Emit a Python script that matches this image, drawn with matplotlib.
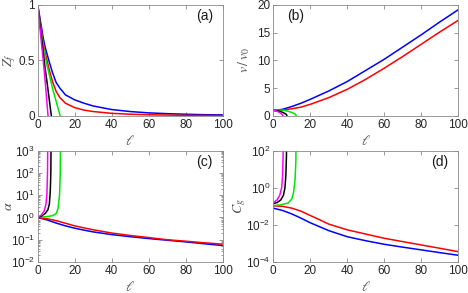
import matplotlib
matplotlib.use('Agg')
import matplotlib.pyplot as plt
import numpy as np

plt.rcParams['font.family'] = ['Liberation Sans', 'DejaVu Sans']
plt.rcParams['mathtext.fontset'] = 'stix'

# ---- panel (a): Z_f vs l ----
a_blue_l = [0, 1, 2, 3, 4, 6, 8, 10, 12, 15, 20, 25, 30, 40, 50, 60, 70, 80, 90, 100]
a_blue = [1, 0.9, 0.8, 0.7, 0.62, 0.5, 0.39, 0.3, 0.25, 0.19, 0.145, 0.115, 0.09, 0.058, 0.04, 0.028, 0.021, 0.016, 0.012, 0.01]
a_red_l = [0, 1, 2, 3, 4, 5, 6, 8, 10, 12, 15, 20, 25, 30, 40, 50, 60, 80, 100]
a_red = [1, 0.88, 0.76, 0.66, 0.57, 0.5, 0.43, 0.31, 0.22, 0.165, 0.115, 0.075, 0.053, 0.04, 0.024, 0.016, 0.011, 0.006, 0.004]
a_green_l = [0, 1, 2, 3, 4, 5, 6, 7, 8, 9, 10, 11, 12.2]
a_green = [1, 0.86, 0.74, 0.63, 0.54, 0.46, 0.39, 0.32, 0.25, 0.19, 0.13, 0.07, 0]
a_black_l = [0, 1, 2, 3, 4, 5, 6, 7, 7.4]
a_black = [1, 0.86, 0.72, 0.57, 0.43, 0.31, 0.18, 0.05, 0]
a_mag_l = [0, 1, 2, 3, 4, 5, 5.6]
a_mag = [1, 0.83, 0.66, 0.5, 0.32, 0.12, 0]

# ---- panel (b): v/v0 vs l ----
b_blue_l = [0, 5, 10, 15, 20, 30, 40, 50, 60, 70, 80, 90, 100]
b_blue = [1, 1.2, 1.7, 2.3, 3.0, 4.5, 6.2, 8.2, 10.2, 12.4, 14.6, 16.9, 19.1]
b_red_l = [0, 5, 10, 15, 20, 30, 40, 50, 60, 70, 80, 90, 100]
b_red = [1, 1.05, 1.3, 1.6, 2.1, 3.3, 4.8, 6.6, 8.6, 10.7, 12.9, 15.1, 17.2]
b_green_l = [0, 2, 4, 6, 8, 10, 11, 12, 12.5]
b_green = [1, 1.05, 1.05, 1.0, 0.85, 0.65, 0.5, 0.3, 0]
b_black_l = [0, 2, 3, 4, 5, 6, 7, 7.5]
b_black = [1, 0.95, 0.9, 0.8, 0.65, 0.5, 0.3, 0]
b_mag_l = [0, 1, 2, 3, 4, 5, 5.4]
b_mag = [1, 0.95, 0.85, 0.7, 0.5, 0.2, 0]

# ---- panel (c): alpha vs l ----
c_blue_l = [0, 5, 10, 15, 20, 25, 30, 40, 50, 60, 70, 80, 90, 100]
c_blue = [1, 0.78, 0.56, 0.42, 0.33, 0.27, 0.225, 0.17, 0.137, 0.113, 0.095, 0.08, 0.066, 0.055]
c_red_l = [0, 5, 10, 15, 20, 25, 30, 40, 50, 60, 70, 80, 90, 100]
c_red = [1, 0.88, 0.72, 0.55, 0.42, 0.34, 0.28, 0.2, 0.155, 0.125, 0.1, 0.086, 0.073, 0.063]
c_green_l = [0, 5, 8, 10, 11, 11.8, 12.2, 12.4]
c_green = [1, 1.1, 1.2, 1.5, 2.5, 10, 100, 1e4]
c_black_l = [0, 2, 4, 5.5, 6.3, 6.8, 7.1, 7.3]
c_black = [1, 1.15, 1.5, 2.2, 4, 15, 100, 1e4]
c_mag_l = [0, 2, 3.5, 4.5, 5, 5.3, 5.5]
c_mag = [1, 1.3, 2, 4, 12, 100, 1e4]

# ---- panel (d): C_g vs l ----
d_blue_l = [0, 5, 10, 15, 20, 25, 30, 40, 50, 60, 70, 80, 90, 100]
d_blue = [0.08, 0.06, 0.039, 0.023, 0.013, 0.008, 4.9e-3, 2.3e-3, 1.4e-3, 9e-4, 6.3e-4, 4.5e-4, 3.2e-4, 2.3e-4]
d_red_l = [0, 5, 10, 15, 20, 25, 30, 40, 50, 60, 70, 80, 90, 100]
d_red = [0.107, 0.1, 0.08, 0.055, 0.032, 0.019, 0.011, 5.4e-3, 3.2e-3, 1.9e-3, 1.25e-3, 8.3e-4, 5.5e-4, 3.6e-4]
d_green_l = [0, 4, 8, 10, 11, 11.8, 12.2, 12.4]
d_green = [0.11, 0.12, 0.15, 0.25, 0.6, 3, 30, 1e4]
d_black_l = [0, 2, 4, 5.5, 6.3, 6.8, 7.1, 7.3]
d_black = [0.14, 0.16, 0.22, 0.4, 1, 5, 50, 1e4]
d_mag_l = [0, 2, 3.5, 4.5, 5, 5.3, 5.5]
d_mag = [0.16, 0.22, 0.4, 1, 4, 50, 1e4]

colors = {'blue': '#0000ff', 'red': '#ff0000', 'green': '#00e600', 'black': '#000000', 'mag': '#ff00ff'}
lw = 1.1

fig = plt.figure(figsize=(4.68, 2.93), dpi=100)
w, h = 185 / 468, 111.3 / 293
axa = fig.add_axes([37.7 / 468, 1 - 116 / 293, w, h])
axb = fig.add_axes([273.3 / 468, 1 - 116 / 293, w, h])
axc = fig.add_axes([37.7 / 468, 1 - 262 / 293, w, h])
axd = fig.add_axes([273.3 / 468, 1 - 262 / 293, w, h])


def draw(ax, curves):
    for l, v, c in curves:
        ax.plot(l, v, color=colors[c], lw=lw, solid_capstyle='butt')


draw(axa, [(a_blue_l, a_blue, 'blue'), (a_red_l, a_red, 'red'), (a_green_l, a_green, 'green'),
           (a_black_l, a_black, 'black'), (a_mag_l, a_mag, 'mag')])
draw(axb, [(b_blue_l, b_blue, 'blue'), (b_red_l, b_red, 'red'), (b_green_l, b_green, 'green'),
           (b_black_l, b_black, 'black'), (b_mag_l, b_mag, 'mag')])
draw(axc, [(c_blue_l, c_blue, 'blue'), (c_red_l, c_red, 'red'), (c_green_l, c_green, 'green'),
           (c_black_l, c_black, 'black'), (c_mag_l, c_mag, 'mag')])
draw(axd, [(d_blue_l, d_blue, 'blue'), (d_red_l, d_red, 'red'), (d_green_l, d_green, 'green'),
           (d_black_l, d_black, 'black'), (d_mag_l, d_mag, 'mag')])

axa.set_ylim(0, 1)
axa.set_yticks([0, 0.5, 1])
axa.set_yticklabels(['0', '0.5', '1'])
axb.set_ylim(0, 20)
axb.set_yticks([0, 5, 10, 15, 20])
axc.set_yscale('log')
axc.set_ylim(1e-2, 1e3)
axc.set_yticks([1e-2, 1e-1, 1e0, 1e1, 1e2, 1e3])
axd.set_yscale('log')
axd.set_ylim(1e-4, 1e2)
axd.set_yticks([1e-4, 1e-2, 1e0, 1e2])

ylabels = [r'$Z_f$', r'$v\,/\,v_0$', r'$\alpha$', r'$C_g$']
# the x of a y label is its right edge (rotated, va='bottom')
ylab_x = [-0.105, -0.115, -0.125, -0.135]
panels = ['(a)', '(b)', '(c)', '(d)']
ppos = [(0.9, 0.9), (0.12, 0.9), (0.9, 0.9), (0.9, 0.9)]
for ax, yl, yx, p, pp in zip([axa, axb, axc, axd], ylabels, ylab_x, panels, ppos):
    ax.set_xlim(0, 100)
    ax.set_xticks([0, 20, 40, 60, 80, 100])
    ax.set_xlabel(r'$\ell$', fontsize=10, color='#505050')
    ax.set_ylabel(yl, fontsize=10, color='#505050')
    ax.xaxis.set_label_coords(0.5, -0.16)
    ax.yaxis.set_label_coords(yx, 0.5)
    ax.tick_params(which='both', direction='in', top=True, right=True, labelsize=8.5,
                   labelcolor='#262626', color='#707070', width=0.5, pad=2)
    ax.tick_params(which='major', length=3)
    ax.tick_params(which='minor', length=1.5)
    for s in ax.spines.values():
        s.set_color('#8a8a8a')
        s.set_linewidth(0.6)
    ax.text(pp[0], pp[1], p, transform=ax.transAxes, ha='center', va='center',
            fontsize=10, color='#1a1a1a')

fig.savefig('out.png', dpi=100)
